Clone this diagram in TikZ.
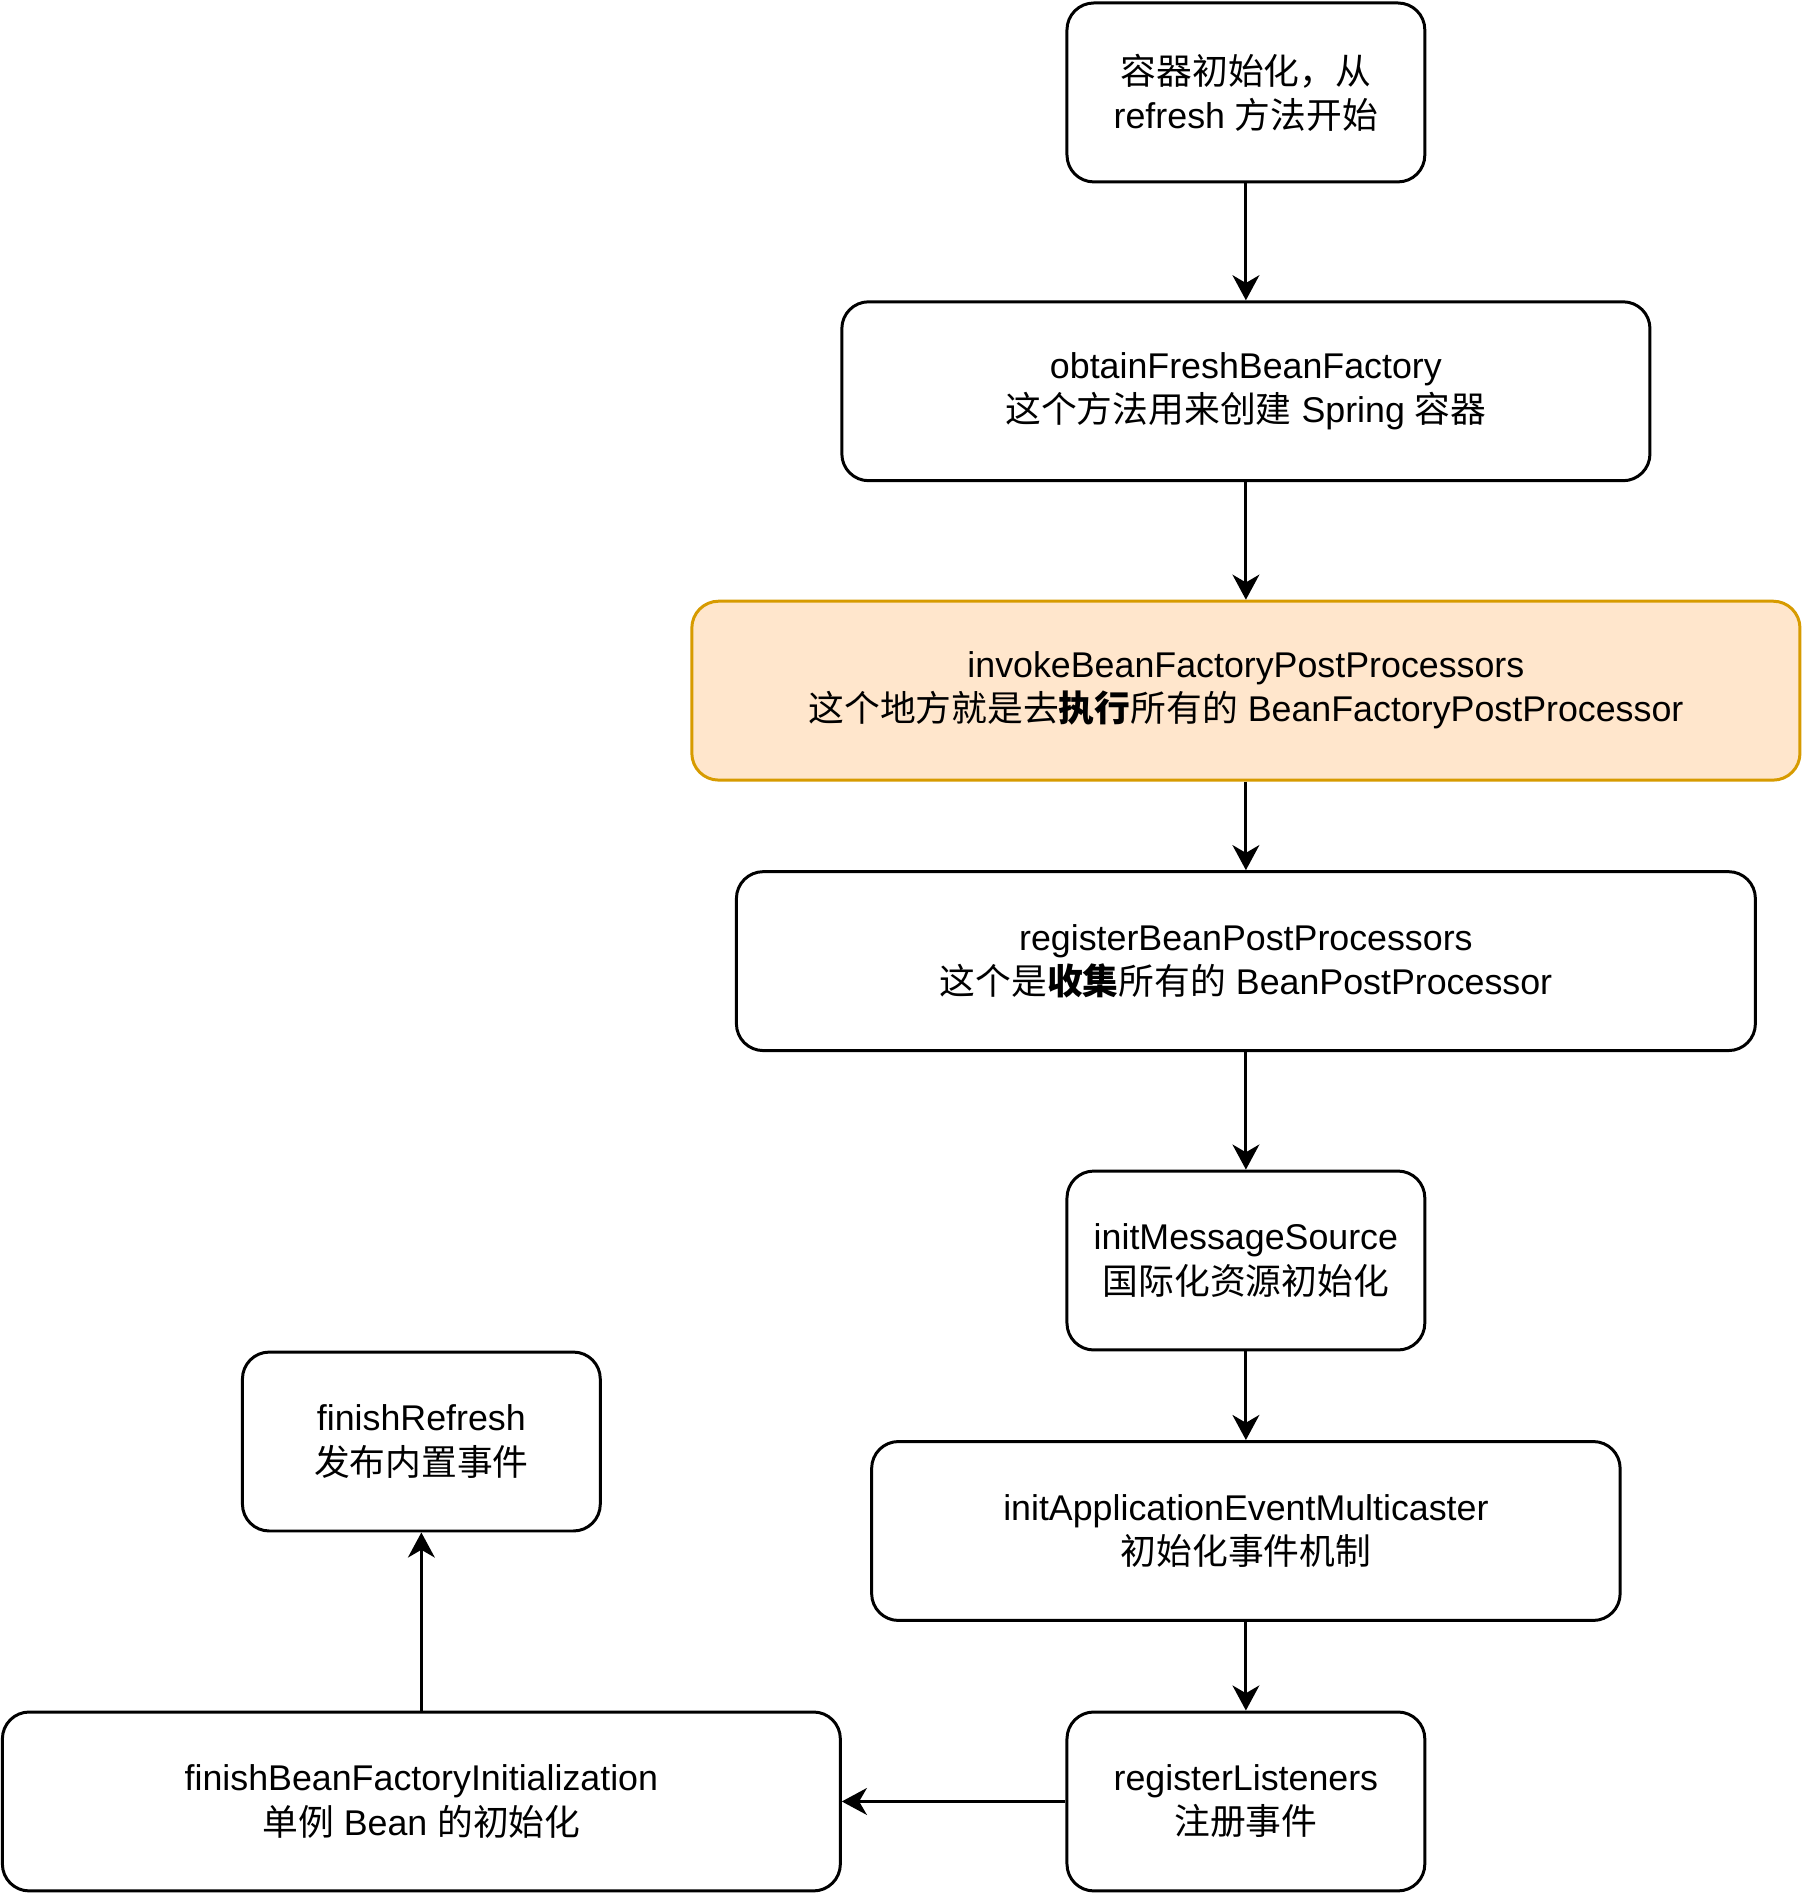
\documentclass[tikz,border=0pt]{standalone}
\usepackage{fontspec}
\setmainfont{Liberation Sans}
\newfontfamily\cjk{Noto Sans CJK SC}
\usetikzlibrary{arrows.meta}

\newcommand{\zh}[1]{{\cjk #1}}
\definecolor{hotline}{HTML}{D79B00}
\definecolor{hotfill}{HTML}{FFE6CC}

\tikzset{
  stepbox/.style={draw, line width=1pt, rounded corners=9pt, minimum height=60pt, inner sep=0pt,
    align=center, font=\fontsize{12pt}{14.8pt}\selectfont},
  hotbox/.style={stepbox, draw=hotline, fill=hotfill},
  flow/.style={line width=1pt, -{Stealth[length=8.4pt,width=9pt,inset=2.6pt]}}
}

\begin{document}
\begin{tikzpicture}[x=1pt,y=1pt]
  \useasboundingbox (0,0) rectangle (604.7,-634.8);
  \fill[white] (0,0) rectangle (604.7,-634.8);   %page

  % right column
  \node[stepbox, minimum width=120pt] (start) at (417.8,-31) {\zh{容器初始化，从}\\refresh \zh{方法开始}};
  \node[stepbox, minimum width=271pt] (obtain) at (417.8,-131.2) {obtainFreshBeanFactory\\\zh{这个方法用来创建} Spring \zh{容器}};
  \node[hotbox, minimum width=371.6pt] (invoke) at (417.8,-231.6) {invokeBeanFactoryPostProcessors\\\zh{这个地方就是去{\bfseries 执行}所有的} BeanFactoryPostProcessor};
  \node[stepbox, minimum width=341.7pt] (register) at (417.8,-322.3) {registerBeanPostProcessors\\\zh{这个是{\bfseries 收集}所有的} BeanPostProcessor};
  \node[stepbox, minimum width=120pt] (message) at (417.8,-422.7) {initMessageSource\\\zh{国际化资源初始化}};
  \node[stepbox, minimum width=251pt] (multicast) at (417.8,-513.4) {initApplicationEventMulticaster\\\zh{初始化事件机制}};
  \node[stepbox, minimum width=120pt] (listen) at (417.8,-604.1) {registerListeners\\\zh{注册事件}};

  % left column
  \node[stepbox, minimum width=281pt] (finish) at (141.3,-604.1) {finishBeanFactoryInitialization\\\zh{单例} Bean \zh{的初始化}};
  \node[stepbox, minimum width=120pt] (refresh) at (141.3,-483.4) {finishRefresh\\\zh{发布内置事件}};

  \draw[flow] (start) -- (obtain);
  \draw[flow] (obtain) -- (invoke);
  \draw[flow] (invoke) -- (register);
  \draw[flow] (register) -- (message);
  \draw[flow] (message) -- (multicast);
  \draw[flow] (multicast) -- (listen);
  \draw[flow] (listen) -- (finish);     %back to the left
  \draw[flow] (finish) -- (refresh);
\end{tikzpicture}
\end{document}
